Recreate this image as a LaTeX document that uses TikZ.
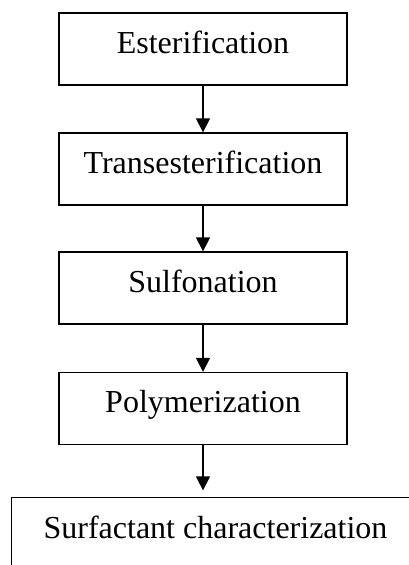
\documentclass[tikz,border=0pt]{standalone}
\usepackage{fontspec}
\setmainfont{Liberation Serif}
\usetikzlibrary{arrows.meta}
\begin{document}
\begin{tikzpicture}[x=1pt,y=-1pt,
  stepbox/.style={draw, line width=1.3pt, rectangle, minimum height=72pt, inner sep=0pt,
    text height=20pt, text depth=12pt, font=\fontsize{32}{38}\selectfont},
  flow/.style={line width=1.3pt, -{Triangle[width=14pt,length=14pt]}}]
\useasboundingbox (0,0) rectangle (409,565);
\clip (0,0) rectangle (409,565);
\node[stepbox, minimum width=288pt] (a) at (203,49) {Esterification};
\node[stepbox, minimum width=288pt] (b) at (203,169) {Transesterification};
\node[stepbox, minimum width=288pt] (c) at (203,288) {Sulfonation};
\node[stepbox, minimum width=288pt] (d) at (203,408.5) {Polymerization};
\node[stepbox, draw=none, minimum width=407pt] (e) at (215.5,534) {Surfactant characterization};
\draw[line width=1.3pt] (e.south west) -- (e.north west) -- ++(420,0) -- ++(0,80);
\draw[flow] (a.south) -- (b.north);
\draw[flow] (b.south) -- (c.north);
\draw[flow] (c.south) -- (d.north);
\draw[flow, shorten >=7pt] (d.south) -- (d.south |- e.north);
\end{tikzpicture}
\end{document}
